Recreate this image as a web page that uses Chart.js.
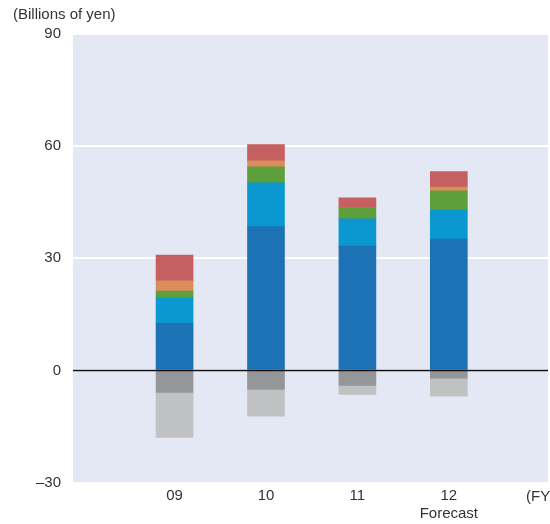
<!DOCTYPE html>
<html>
<head>
<meta charset="utf-8">
<script src="https://cdn.jsdelivr.net/npm/chart.js@4/dist/chart.umd.min.js"></script>
<style>
  html, body { margin: 0; padding: 0; background: #ffffff; }
  #wrap { width: 550px; height: 524px; position: relative; }
</style>
</head>
<body>
<div id="wrap"><canvas id="chart" width="550" height="524"></canvas></div>
<script>
// Fiscal years on the horizontal axis and their printed labels
const fiscalYears = [9, 10, 11, 12];
const yearLabels = ['09', '10', '11', '12'];
const yearNotes = ['', '', '', 'Forecast'];

// Positive components (billions of yen), stacked from zero upward
const segmentA = [12.6, 38.4, 33.2, 35.1];   // dark blue
const segmentB = [6.7, 11.7, 7.3, 7.8];      // light blue
const segmentC = [1.9, 4.3, 2.9, 5.1];       // green
const segmentD = [2.7, 1.6, 0, 1.0];         // orange
const segmentE = [6.9, 4.3, 2.7, 4.1];       // red

// Negative components, stacked from zero downward
const negativeA = [-5.9, -5.1, -4.0, -2.1];  // dark gray
const negativeB = [-12.0, -7.1, -2.4, -4.8]; // light gray

// Value axis ticks
const yTicks = [-30, 0, 30, 60, 90];

const FONT = "'Liberation Sans', Arial, sans-serif";
const TEXT = '#333333';

function series(values, color) {
  return {
    data: fiscalYears.map((x, i) => ({ x: x, y: values[i] })),
    backgroundColor: color,
    borderWidth: 0,
    barThickness: 37
  };
}

const plotBackground = {
  id: 'plotBackground',
  beforeDraw(chart) {
    const { ctx, chartArea: a } = chart;
    ctx.save();
    ctx.fillStyle = '#e4e8f4';
    ctx.fillRect(a.left, a.top, a.right - a.left, a.bottom - a.top);
    ctx.restore();
  }
};

const zeroLineAndNotes = {
  id: 'zeroLineAndNotes',
  afterDatasetsDraw(chart) {
    const { ctx, chartArea: a, scales } = chart;
    const y0 = scales.y.getPixelForValue(0);
    ctx.save();
    ctx.strokeStyle = '#111111';
    ctx.lineWidth = 1.5;
    ctx.beginPath();
    ctx.moveTo(a.left, y0);
    ctx.lineTo(a.right, y0);
    ctx.stroke();
    ctx.restore();
  },
  afterDraw(chart) {
    const { ctx } = chart;
    ctx.save();
    ctx.fillStyle = TEXT;
    ctx.textBaseline = 'middle';
    ctx.textAlign = 'left';
    ctx.font = '15px ' + FONT;
    ctx.fillText('(Billions of yen)', 13, 15);
    ctx.fillText('(FY)', 526, 497);
    ctx.restore();
  }
};

new Chart(document.getElementById('chart'), {
  type: 'bar',
  data: {
    datasets: [
      series(segmentA, '#1d72b5'),
      series(segmentB, '#0b98d0'),
      series(segmentC, '#5c9f3b'),
      series(segmentD, '#da8c5b'),
      series(segmentE, '#c55f60'),
      series(negativeA, '#959699'),
      series(negativeB, '#c0c1c3')
    ]
  },
  options: {
    responsive: false,
    animation: false,
    events: [],
    layout: { padding: { top: 33.5, right: 2, left: 0, bottom: 0 } },
    plugins: { legend: { display: false }, tooltip: { enabled: false } },
    scales: {
      x: {
        type: 'linear',
        stacked: true,
        offset: false,
        min: 7.889,
        max: 13.085,
        border: { display: false },
        grid: { display: false, drawTicks: false, offset: false },
        afterBuildTicks(scale) { scale.ticks = fiscalYears.map(v => ({ value: v })); },
        afterFit(scale) { scale.height = 41.3; },
        ticks: {
          padding: 5,
          color: TEXT,
          font: { family: FONT, size: 15, lineHeight: 1.15 },
          maxRotation: 0,
          callback(value) {
            const i = fiscalYears.indexOf(value);
            if (i < 0) return '';
            return yearNotes[i] ? [yearLabels[i], yearNotes[i]] : yearLabels[i];
          }
        }
      },
      y: {
        stacked: true,
        min: -30,
        max: 90,
        border: { display: false },
        afterBuildTicks(scale) { scale.ticks = yTicks.map(v => ({ value: v })); },
        afterFit(scale) { scale.width = 73; },
        grid: {
          drawTicks: false,
          color: '#ffffff',
          lineWidth: 2
        },
        ticks: {
          padding: 12,
          color: TEXT,
          font: { family: FONT, size: 15 },
          callback(value) { return value < 0 ? '\u2013' + Math.abs(value) : String(value); }
        }
      }
    }
  },
  plugins: [plotBackground, zeroLineAndNotes]
});
</script>
</body>
</html>
